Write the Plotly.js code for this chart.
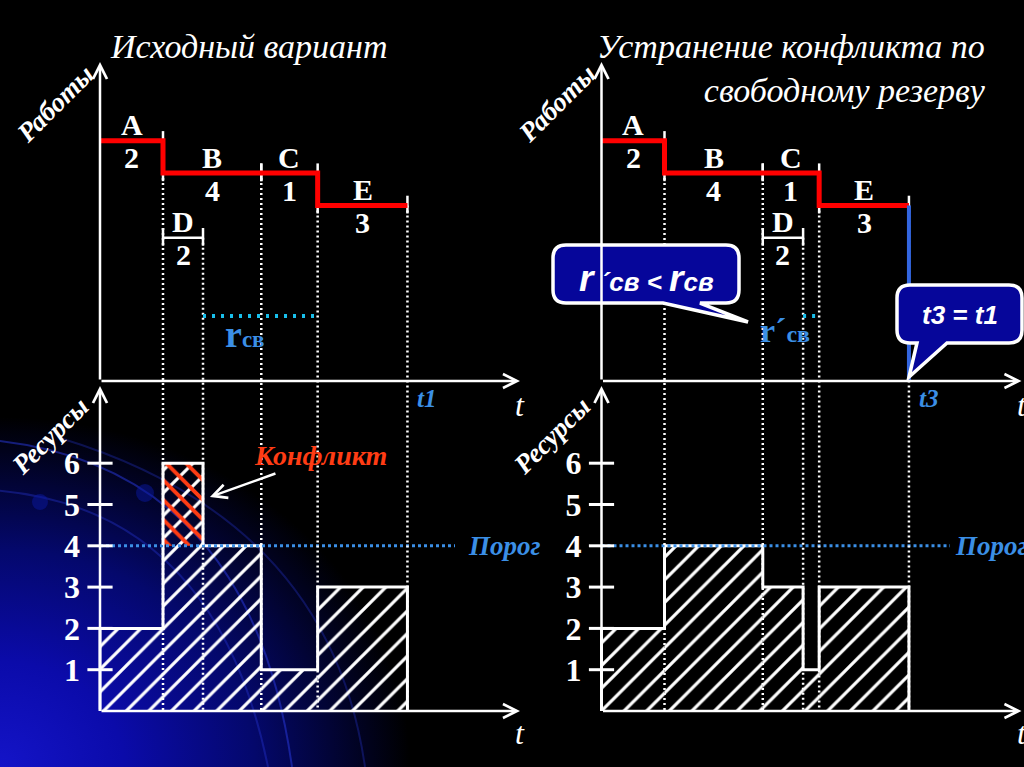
<!DOCTYPE html>
<html><head><meta charset="utf-8">
<script src="https://cdn.plot.ly/plotly-3.0.1.min.js"></script>
<style>
html,body{margin:0;padding:0;width:1024px;height:767px;overflow:hidden;}
body{background:radial-gradient(ellipse 410px 350px at 0px 767px,#1414c8 0%,#0b0baa 30%,#04086c 62%,#000 100%),#000;}
#chart{width:1024px;height:767px;}
</style></head><body><div id="chart"></div>
<script>
// ---------------- data ----------------
const tasks      = ['A', 'B', 'C', 'D', 'E'];
const resNeed    = [2, 4, 1, 2, 3];          // resource of each task
const rowLevel   = [4, 3, 3, 1, 2];          // row of each task in the works chart
const critical   = [true, true, true, false, true];
const successors = [[1, 3], [2], [4], [4], []];
const startOrig  = [0, 2, 5.12, 2, 6.91];    // original schedule
const endOrig    = [2, 5.12, 6.91, 3.27, 9.76];
const startFix   = [0, 2, 5.12, 5.12, 6.91]; // D shifted within free reserve
const endFix     = [2, 5.12, 6.91, 6.40, 9.76];
const threshold  = 4;
const resTicks   = [1, 2, 3, 4, 5, 6];

// ---------------- geometry ----------------
const W = 1024, H = 767;
const PX = 31.5, X0 = [100, 601.5];
const RES0 = 711, RESU = 41.3, WRK0 = 270, WRKU = 32.3;
const SERIF = '"Liberation Serif","Times New Roman",serif';
const SANS = '"Liberation Sans",Arial,sans-serif';
const WHITE = '#ffffff', RED = '#ff0000', BLUE = '#3b8fe6', CYAN = '#19c0ec', CONF = '#ff3c14';
const toW = r => (WRK0 - RES0 + r * RESU) / WRKU;
const pxW = p => (WRK0 - p) / WRKU;
const pxR = p => (RES0 - p) / RESU;
const WBASE = pxW(381), WTOP = pxW(62), RTOP = pxR(386);
const XEND = (520 - 100) / PX;
const PXX = x => x / W, PXY = y => 1 - y / H;

function profile(st, en) {
  const bps = [...new Set(st.concat(en))].sort((a, b) => a - b);
  const segs = [];
  for (let i = 0; i < bps.length - 1; i++) {
    const a = bps[i], b = bps[i + 1], m = (a + b) / 2;
    let s = 0;
    for (let k = 0; k < st.length; k++) if (st[k] < m && en[k] > m) s += resNeed[k];
    segs.push({a, b, s});
  }
  return segs;
}

const traces = [], annotations = [], shapes = [];

function arrow(xref, yref, x0, y0, x1, y1) {
  return {xref, yref, axref: xref, ayref: yref, x: x1, y: y1, ax: x0, ay: y0, text: '',
    showarrow: true, arrowhead: 5, arrowsize: 1.1, arrowwidth: 2.5, arrowcolor: WHITE, standoff: 0};
}
function label(text, xref, yref, x, y, size, color, extra) {
  return Object.assign({xref, yref, x, y, text, showarrow: false,
    font: {family: SERIF, size, color}, xanchor: 'center', yanchor: 'middle'}, extra || {});
}

const panels = [
  {xa: 'x', ya: 'y', yw: 'y2', st: startOrig, en: endOrig, off: 0, thrEnd: (455 - 100) / PX},
  {xa: 'x2', ya: 'y3', yw: 'y4', st: startFix, en: endFix, off: 501.5, thrEnd: (950 - 601.5) / PX}
];

panels.forEach((p, pi) => {
  const segs = profile(p.st, p.en);
  traces.push({type: 'bar', xaxis: p.xa, yaxis: p.ya,
    x: segs.map(s => (s.a + s.b) / 2), y: segs.map(s => s.s), width: segs.map(s => s.b - s.a), base: 0,
    marker: {color: 'rgba(0,0,0,0)', line: {width: 0},
      pattern: {shape: '/', fgcolor: WHITE, bgcolor: 'rgba(0,0,0,0)', size: 16, solidity: 0.2}},
    hoverinfo: 'skip'});
  const over = segs.filter(s => s.s > threshold);
  if (over.length) traces.push({type: 'bar', xaxis: p.xa, yaxis: p.ya,
    x: over.map(s => (s.a + s.b) / 2), y: over.map(s => s.s - threshold), width: over.map(s => s.b - s.a), base: threshold,
    marker: {color: 'rgba(0,0,0,0)', line: {width: 0},
      pattern: {shape: '\\', fgcolor: CONF, bgcolor: 'rgba(0,0,0,0)', size: 14, solidity: 0.28}},
    hoverinfo: 'skip'});
  const ox = [segs[0].a], oy = [0];
  segs.forEach(s => { ox.push(s.a); oy.push(s.s); });
  ox.push(segs[segs.length - 1].b); oy.push(0);
  traces.push({type: 'scatter', mode: 'lines', xaxis: p.xa, yaxis: p.ya, x: ox, y: oy,
    line: {shape: 'hv', color: WHITE, width: 3}, hoverinfo: 'skip'});
  const bps = [...new Set(p.st.concat(p.en))].filter(v => v > 0).sort((a, b) => a - b);
  const gx = [], gy = [];
  bps.forEach(b => {
    const starting = tasks.map((t, k) => k).filter(k => p.st[k] === b);
    const ending = tasks.map((t, k) => k).filter(k => p.en[k] === b);
    const top = starting.length ? Math.max(...starting.map(k => rowLevel[k])) : Math.min(...ending.map(k => rowLevel[k]));
    gx.push(b, b, null); gy.push(top, toW(0), null);
  });
  traces.push({type: 'scatter', mode: 'lines', xaxis: p.xa, yaxis: p.yw, x: gx, y: gy,
    line: {color: WHITE, width: 2.5, dash: '2px,3px'}, hoverinfo: 'skip'});
  traces.push({type: 'scatter', mode: 'lines', xaxis: p.xa, yaxis: p.ya, x: [0, p.thrEnd], y: [threshold, threshold],
    line: {color: BLUE, width: 3, dash: '3px,3px'}, hoverinfo: 'skip'});
  traces.push({type: 'scatter', mode: 'markers', xaxis: p.xa, yaxis: p.ya, x: resTicks.map(() => 0), y: resTicks,
    marker: {symbol: 'line-ew', size: 18, line: {width: 3, color: WHITE}}, hoverinfo: 'skip'});
  const tx = [], ty = [];
  tasks.forEach((t, k) => {
    [p.st[k], p.en[k]].forEach(v => { if (v > 0) { tx.push(v, v, null); ty.push(rowLevel[k] - 0.25, rowLevel[k] + 0.3, null); } });
  });
  traces.push({type: 'scatter', mode: 'lines', xaxis: p.xa, yaxis: p.yw, x: tx, y: ty,
    line: {color: WHITE, width: 2.5}, hoverinfo: 'skip'});
  tasks.forEach((t, k) => {
    if (!critical[k]) traces.push({type: 'scatter', mode: 'lines', xaxis: p.xa, yaxis: p.yw,
      x: [p.st[k], p.en[k]], y: [rowLevel[k], rowLevel[k]], line: {color: WHITE, width: 2.5}, hoverinfo: 'skip'});
  });
  let resvEnd = 0, resvStart = 0;
  tasks.forEach((t, k) => {
    if (!critical[k]) {
      resvStart = p.en[k];
      resvEnd = Math.min(...successors[k].map(s => p.st[s]));
    }
  });
  traces.push({type: 'scatter', mode: 'lines', xaxis: p.xa, yaxis: p.yw, x: [resvStart, resvEnd], y: [pxW(316), pxW(316)],
    line: {color: CYAN, width: 4, dash: '3px,6px'}, hoverinfo: 'skip'});
  const crit = tasks.map((t, k) => k).filter(k => critical[k]);
  traces.push({type: 'scatter', mode: 'lines', xaxis: p.xa, yaxis: p.yw,
    x: crit.map(k => p.st[k]).concat([p.en[crit[crit.length - 1]]]),
    y: crit.map(k => rowLevel[k]).concat([rowLevel[crit[crit.length - 1]]]),
    line: {shape: 'hv', color: RED, width: 5}, hoverinfo: 'skip'});
  if (pi === 1) {
    const last = crit[crit.length - 1];
    traces.push({type: 'scatter', mode: 'lines', xaxis: p.xa, yaxis: p.yw,
      x: [p.en[last], p.en[last]], y: [rowLevel[last], WBASE], line: {color: '#3366e0', width: 4}, hoverinfo: 'skip'});
  }
  tasks.forEach((t, k) => {
    const mx = (p.st[k] + p.en[k]) / 2;
    annotations.push(label('<b>' + t + '</b>', p.xa, p.yw, mx, rowLevel[k], 30, WHITE, {yshift: 16}));
    annotations.push(label('<b>' + resNeed[k] + '</b>', p.xa, p.yw, mx, rowLevel[k], 30, WHITE, {yshift: -17}));
  });
  annotations.push(arrow(p.xa, p.yw, 0, WBASE, XEND, WBASE));
  annotations.push(arrow(p.xa, p.yw, 0, WBASE, 0, WTOP));
  annotations.push(arrow(p.xa, p.ya, 0, 0, XEND, 0));
  annotations.push(arrow(p.xa, p.ya, 0, 0, 0, RTOP));
  annotations.push(label('<b><i>Работы</i></b>', 'paper', 'paper', PXX(55 + p.off), PXY(104), 27, WHITE, {textangle: -45}));
  annotations.push(label('<b><i>Ресурсы</i></b>', 'paper', 'paper', PXX(50 + p.off), PXY(436), 27, WHITE, {textangle: -45}));
  annotations.push(label('<i>t</i>', 'paper', 'paper', PXX(520 + p.off), PXY(405), 32, WHITE));
  annotations.push(label('<i>t</i>', 'paper', 'paper', PXX(520 + p.off), PXY(733), 32, WHITE));
  annotations.push(label('<b><i>' + (pi === 0 ? 't1' : 't3') + '</i></b>', p.xa, p.yw, p.en[4] + 0.62, WBASE, 25, BLUE, {yshift: -17}));
  annotations.push(label('<b><i>Порог</i></b>', p.xa, p.ya, p.thrEnd + (pi === 0 ? 0.36 : 0.08), threshold, 27, BLUE, {xanchor: 'left'}));
});

annotations.push(label('<b>r<span style="font-size:23px">св</span></b>', 'x', 'y2', 4.6, pxW(316), 38, BLUE, {yshift: -18}));
annotations.push(label('<b>r´<span style="font-size:24px">св</span></b>', 'x2', 'y4', 5.83, pxW(316), 34, BLUE, {yshift: -14}));

annotations.push(label('<b><i>Конфликт</i></b>', 'paper', 'paper', PXX(320), PXY(456), 28, CONF));
annotations.push({xref: 'x', yref: 'y', x: endOrig[3] + 0.22, y: pxR(497), ax: 67, ay: -24, text: '', showarrow: true,
  arrowhead: 5, arrowsize: 1.1, arrowwidth: 2.5, arrowcolor: WHITE, standoff: 0});

annotations.push(label('<i>Исходный вариант</i>', 'paper', 'paper', PXX(249), PXY(47), 34, WHITE));
annotations.push(label('<i>Устранение конфликта по<br>свободному резерву</i>', 'paper', 'paper', PXX(988), PXY(68), 34, WHITE, {xanchor: 'right', align: 'right'}));

function callout(x0, y0, x1, y1, r, ta, tb, tx, ty) {
  const P = (x, y) => PXX(x).toFixed(5) + ',' + PXY(y).toFixed(5);
  return 'M' + P(x0 + r, y0) + 'L' + P(x1 - r, y0) + 'Q' + P(x1, y0) + ' ' + P(x1, y0 + r) +
    'L' + P(x1, y1 - r) + 'Q' + P(x1, y1) + ' ' + P(x1 - r, y1) + 'L' + P(tb, y1) + 'L' + P(tx, ty) +
    'L' + P(ta, y1) + 'L' + P(x0 + r, y1) + 'Q' + P(x0, y1) + ' ' + P(x0, y1 - r) + 'L' + P(x0, y0 + r) +
    'Q' + P(x0, y0) + ' ' + P(x0 + r, y0) + 'Z';
}
shapes.push({type: 'path', xref: 'paper', yref: 'paper', path: callout(553, 245, 739, 303, 13, 663, 700, 748, 322),
  fillcolor: '#06069a', line: {color: WHITE, width: 3.5}, layer: 'above'});
shapes.push({type: 'path', xref: 'paper', yref: 'paper', path: callout(897, 285, 1022, 343, 13, 917, 947, 909, 377),
  fillcolor: '#06069a', line: {color: WHITE, width: 3.5}, layer: 'above'});
annotations.push({xref: 'paper', yref: 'paper', x: PXX(646), y: PXY(278), xanchor: 'center', yanchor: 'middle', showarrow: false,
  text: '<b><i><span style="font-size:37px">r</span> ´св &lt; <span style="font-size:37px">r</span>св</i></b>',
  font: {family: SANS, size: 26, color: WHITE}});
annotations.push({xref: 'paper', yref: 'paper', x: PXX(960), y: PXY(315), xanchor: 'center', yanchor: 'middle', showarrow: false,
  text: '<b><i>t3 = t1</i></b>', font: {family: SANS, size: 26, color: WHITE}});

function pathPx(s) { return s.replace(/(-?[\d.]+),(-?[\d.]+)/g, (m, a, b) => PXX(+a).toFixed(5) + ',' + PXY(+b).toFixed(5)); }
[['M-10,440 Q250,465 292,767', 0.5], ['M-10,490 Q215,505 268,767', 0.35], ['M60,438 Q330,520 365,767', 0.3]].forEach(a => {
  shapes.push({type: 'path', xref: 'paper', yref: 'paper', path: pathPx(a[0]), line: {color: '#2a3ae0', width: 2}, opacity: a[1], layer: 'below'});
});
[[145, 493, 9], [40, 502, 8]].forEach(c => {
  shapes.push({type: 'circle', xref: 'paper', yref: 'paper', x0: PXX(c[0] - c[2]), x1: PXX(c[0] + c[2]), y0: PXY(c[1] + c[2]), y1: PXY(c[1] - c[2]),
    fillcolor: '#0a18a0', line: {width: 0}, opacity: 0.5, layer: 'below'});
});

const yRes = {domain: [0, 1], range: [-(H - RES0) / RESU, RES0 / RESU], showgrid: false, zeroline: false, showline: false,
  ticks: '', tickvals: resTicks, ticktext: resTicks.map(v => '<b>' + v + '</b>'), ticklabelstandoff: 20,
  tickfont: {family: SERIF, size: 32, color: WHITE}, fixedrange: true};
const yWrk = {domain: [0, 1], range: [-(H - WRK0) / WRKU, WRK0 / WRKU], visible: false, overlaying: 'y', fixedrange: true};
const layout = {
  width: W, height: H, margin: {l: 0, r: 0, t: 0, b: 0, pad: 0},
  paper_bgcolor: 'rgba(0,0,0,0)', plot_bgcolor: 'rgba(0,0,0,0)', showlegend: false, barmode: 'overlay',
  xaxis: {domain: [0, 1], range: [-X0[0] / PX, (W - X0[0]) / PX], visible: false, fixedrange: true},
  xaxis2: {domain: [0, 1], range: [-X0[1] / PX, (W - X0[1]) / PX], visible: false, overlaying: 'x', fixedrange: true},
  yaxis: Object.assign({}, yRes, {anchor: 'free', position: X0[0] / W}),
  yaxis2: Object.assign({}, yWrk),
  yaxis3: Object.assign({}, yRes, {anchor: 'free', position: X0[1] / W, overlaying: 'y'}),
  yaxis4: Object.assign({}, yWrk),
  annotations, shapes
};
Plotly.newPlot('chart', traces, layout, {staticPlot: true, displayModeBar: false});
</script></body></html>
